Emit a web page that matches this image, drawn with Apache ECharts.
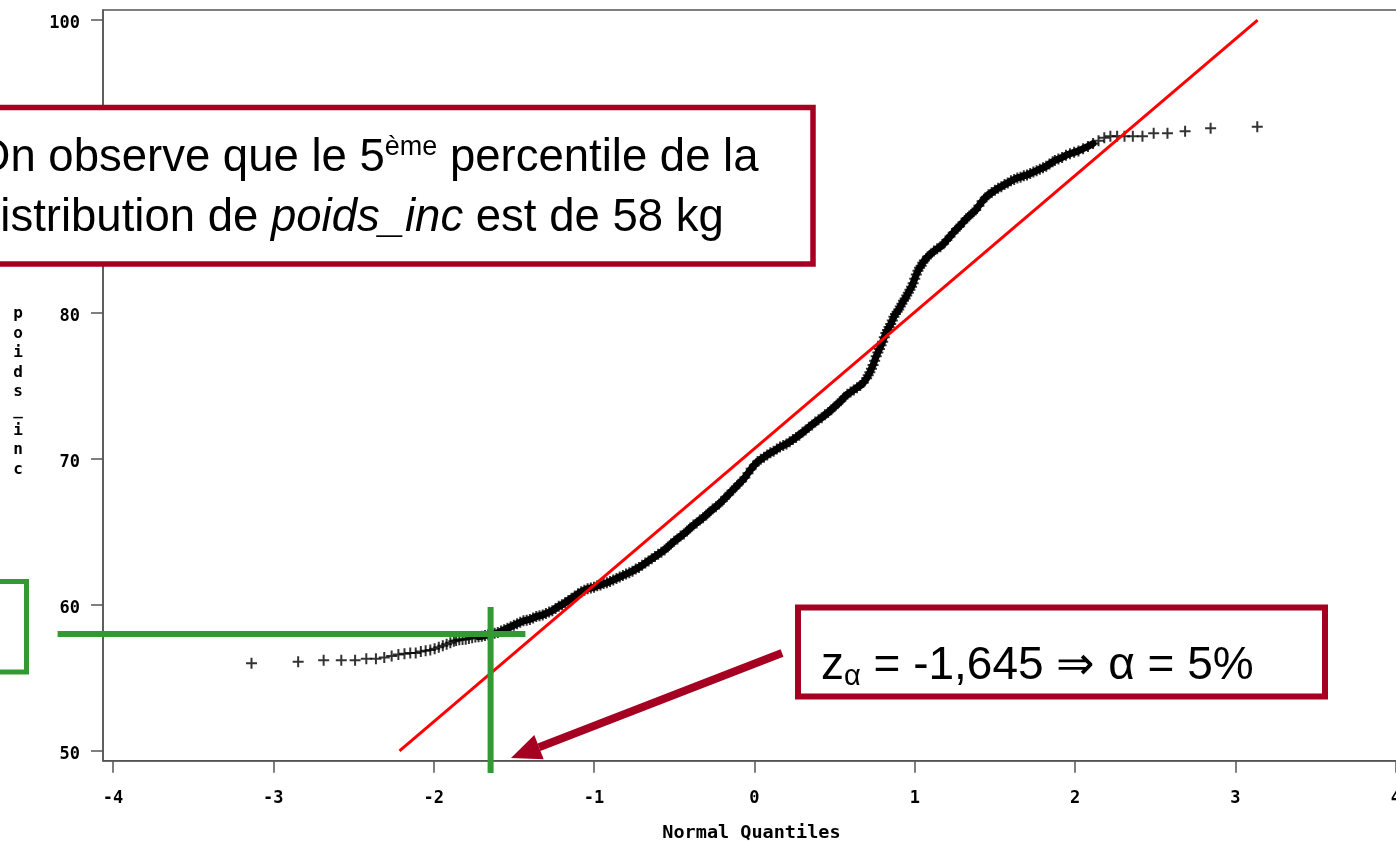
<!DOCTYPE html>
<html><head><meta charset="utf-8">
<script src="https://cdn.jsdelivr.net/npm/echarts@6/dist/echarts.min.js"></script>
<style>html,body{margin:0;padding:0;background:#fff}#c{width:1396px;height:841px}</style>
</head><body><div id="c"></div>
<script>
const normalQuantiles = [
-3.136,-2.845,-2.686,-2.576,-2.490,-2.420,-2.360,-2.308,-2.262,-2.220,-2.182,-2.146,-2.112,-2.080,-2.050,-2.021,-1.994,-1.968,-1.943,-1.919,-1.896,-1.874,
-1.86,-1.84,-1.82,-1.80,-1.78,-1.76,-1.74,-1.72,-1.70,-1.68,-1.66,-1.64,-1.62,-1.60,-1.58,-1.56,-1.54,-1.52,-1.50,-1.48,-1.46,-1.44,-1.42,-1.40,-1.38,-1.36,-1.34,-1.32,-1.30,-1.28,-1.26,-1.24,-1.22,-1.20,-1.18,-1.16,-1.14,-1.12,-1.10,-1.08,-1.06,-1.04,-1.02,-1.00,
-0.98,-0.96,-0.94,-0.92,-0.90,-0.88,-0.86,-0.84,-0.82,-0.80,-0.78,-0.76,-0.74,-0.72,-0.70,-0.68,-0.66,-0.64,-0.62,-0.60,-0.58,-0.56,-0.54,-0.52,-0.50,-0.48,-0.46,-0.44,-0.42,-0.40,-0.38,-0.36,-0.34,-0.32,-0.30,-0.28,-0.26,-0.24,-0.22,-0.20,-0.18,-0.16,-0.14,-0.12,-0.10,-0.08,-0.06,-0.04,-0.02,
0.00,0.02,0.04,0.06,0.08,0.10,0.12,0.14,0.16,0.18,0.20,0.22,0.24,0.26,0.28,0.30,0.32,0.34,0.36,0.38,0.40,0.42,0.44,0.46,0.48,0.50,0.52,0.54,0.56,0.58,0.60,0.62,0.64,0.66,0.68,0.70,
0.71,0.72,0.73,0.74,0.75,0.76,0.77,0.78,0.79,0.80,0.81,0.82,0.83,0.84,0.85,0.86,0.87,0.88,0.89,0.90,0.91,0.92,0.93,0.94,0.95,0.96,0.97,0.98,0.99,1.00,1.01,1.02,1.03,1.04,1.05,1.06,
1.08,1.10,1.12,1.14,1.16,1.18,1.20,1.22,1.24,1.26,1.28,1.30,1.32,1.34,1.36,1.38,1.40,1.42,1.44,1.46,1.48,1.50,1.52,1.54,1.56,1.58,1.60,1.62,1.64,1.66,1.68,1.70,1.72,1.74,1.76,1.78,1.80,1.82,1.84,1.86,
1.874,1.896,1.919,1.943,1.968,1.994,2.021,2.050,2.080,2.112,2.146,2.182,2.220,2.262,2.308,2.360,2.420,2.490,2.576,2.686,2.845,3.136
];
const poidsInc = [
56.0,56.1,56.2,56.2,56.2,56.3,56.3,56.4,56.5,56.6,56.65,56.7,56.7,56.8,56.85,56.9,57.0,57.1,57.2,57.3,57.4,57.5,
57.55,57.6,57.62,57.65,57.7,57.75,57.8,57.82,57.85,57.9,57.95,58.0,58.05,58.1,58.2,58.3,58.4,58.5,58.6,58.7,58.8,58.9,58.95,59.0,59.1,59.2,59.25,59.3,59.4,59.5,59.6,59.75,59.9,60.0,60.15,60.3,60.45,60.6,60.75,60.9,61.0,61.1,61.15,61.2,
61.3,61.35,61.45,61.5,61.6,61.7,61.8,61.9,62.0,62.1,62.2,62.3,62.45,62.55,62.7,62.85,63.0,63.15,63.3,63.45,63.6,63.75,63.95,64.15,64.35,64.5,64.7,64.85,65.05,65.25,65.45,65.6,65.8,65.95,66.15,66.35,66.55,66.7,66.9,67.1,67.35,67.55,67.8,68.0,68.25,68.45,68.7,69.0,69.3,
69.55,69.8,69.95,70.1,70.25,70.4,70.5,70.65,70.8,70.9,71.0,71.15,71.3,71.45,71.6,71.8,71.95,72.15,72.3,72.5,72.65,72.8,73.0,73.15,73.35,73.55,73.75,73.95,74.2,74.4,74.55,74.7,74.85,75.0,75.2,75.5,
75.7,75.9,76.15,76.4,76.7,77.0,77.25,77.5,77.75,78.0,78.3,78.6,78.8,79.0,79.2,79.45,79.7,79.9,80.05,80.2,80.4,80.6,80.8,80.95,81.15,81.35,81.55,81.75,82.0,82.3,82.6,82.85,83.05,83.2,83.4,83.55,
83.8,84.0,84.2,84.35,84.5,84.7,84.95,85.2,85.45,85.7,85.9,86.15,86.4,86.6,86.8,87.0,87.3,87.6,87.85,88.05,88.2,88.35,88.5,88.6,88.75,88.85,89.0,89.1,89.2,89.25,89.35,89.4,89.5,89.6,89.7,89.8,89.9,90.0,90.15,90.3,
90.4,90.5,90.6,90.75,90.85,90.95,91.05,91.2,91.35,91.55,91.75,91.95,92.05,92.05,92.05,92.05,92.05,92.25,92.25,92.4,92.6,92.7
];
// Reference (normal) line end points
const refLineX = [-2.213, 3.138];
const refLineY = [50, 100];
// Green guide lines: z = -1.645, 5th percentile = 58
const zAlpha = -1.645;
const percentile5 = 58;
const guideHX = [-4.345, -1.428];
const guideVY = [59.85, 48.5];
// Dense part of the sample (where the markers merge into a band)
const denseRange = [-1.72, 2.12];
// Axis ticks
const xTickValues = [-4, -3, -2, -1, 0, 1, 2, 3, 4];
const yTickValues = [50, 60, 70, 80, 90, 100];
const xRange = [-4.062, 4.2];
const yRange = [49.337, 100.684];
const yName = 'poids_inc';

const tickFont = {fontFamily: 'DejaVu Sans Mono', fontWeight: 'bold', fontSize: 17, color: '#000'};
const axisGray = '#555';
const darkRed = '#A50021';
const green = '#339933';
const annFont = 'Liberation Sans';
const annSize = 45.5;

// measure text widths to place the superscript
const mctx = document.createElement('canvas').getContext('2d');
function tw(t, size, style) { mctx.font = (style || '') + ' ' + size + 'px "' + annFont + '"'; return mctx.measureText(t).width; }
const line1a = 'On observe que le 5', line1b = 'ème', line1c = ' percentile de la';
const l1x = -25;
const l1bX = l1x + tw(line1a, annSize);
const l1cX = l1bX + tw(line1b, 27);

const chart = echarts.init(document.getElementById('c'), null, {renderer: 'canvas'});
const pts = normalQuantiles.map((x, i) => [x, poidsInc[i]]);
const densePts = pts.filter(p => p[0] >= denseRange[0] && p[0] <= denseRange[1]);
const guides = [
  [guideHX[0], percentile5, guideHX[1], percentile5],
  [zAlpha, guideVY[0], zAlpha, guideVY[1]]
];
const yNameRich = '{e| }\n' + yName.split('').map(c => '{n|' + c + '}').join('\n');
const nameFont = {fontFamily: 'DejaVu Sans Mono', fontWeight: 'bold', fontSize: 16, lineHeight: 19.4, color: '#000'};

chart.setOption({
  animation: false,
  backgroundColor: '#fff',
  grid: {left: 103, top: 10.06, width: 1324.9, height: 750.6, show: true, outerBoundsMode: 'none',
         containLabel: false,
         borderColor: axisGray, borderWidth: 1.5, backgroundColor: 'transparent'},
  xAxis: {
    type: 'value', min: xRange[0], max: xRange[1],
    axisLine: {show: true, onZero: false, lineStyle: {color: axisGray, width: 1.5}},
    axisTick: {show: true, inside: false, length: 12, customValues: xTickValues, lineStyle: {color: axisGray, width: 1.5}},
    axisLabel: Object.assign({customValues: xTickValues, margin: 29}, tickFont),
    splitLine: {show: false},
    name: '{n|Normal Quantiles}', nameLocation: 'middle', nameGap: 63,
    nameTextStyle: {fontFamily: 'DejaVu Sans Mono', fontWeight: 'bold', fontSize: 18.5, color: '#000',
                    rich: {n: {fontFamily: 'DejaVu Sans Mono', fontWeight: 'bold', fontSize: 18.5, color: '#000', padding: [0, 28, 0, 0]}}}
  },
  yAxis: {
    type: 'value', min: yRange[0], max: yRange[1],
    axisLine: {show: true, onZero: false, lineStyle: {color: axisGray, width: 1.5}},
    axisTick: {show: true, inside: false, length: 12, customValues: yTickValues, lineStyle: {color: axisGray, width: 1.5}},
    axisLabel: Object.assign({customValues: yTickValues, margin: 23, verticalAlign: 'top', lineHeight: 8}, tickFont),
    splitLine: {show: false},
    name: yNameRich, nameLocation: 'middle', nameRotate: 0, nameGap: 85,
    nameTextStyle: Object.assign({align: 'center', verticalAlign: 'middle',
      rich: {e: Object.assign({}, nameFont, {fontSize: 8, lineHeight: 13}), n: Object.assign({}, nameFont)}}, nameFont)
  },
  series: [
    {type: 'line', data: densePts, z: 1, symbol: 'none', silent: true,
     lineStyle: {color: '#000', width: 7, join: 'round', cap: 'round'}},
    {type: 'scatter', data: pts, z: 2,
     symbol: 'path://M0,5L10,5M5,0L5,10', symbolSize: 11,
     itemStyle: {color: 'rgba(0,0,0,0)', borderColor: '#000', borderWidth: 2},
     emphasis: {disabled: true}},
    {type: 'line', z: 3, data: refLineX.map((x, i) => [x, refLineY[i]]), symbol: 'none',
     lineStyle: {color: '#ff0000', width: 3}, silent: true},
    {type: 'custom', z: 4, clip: false, silent: true, data: guides,
     dimensions: ['x1', 'y1', 'x2', 'y2'], encode: {x: [0, 2], y: [1, 3]},
     renderItem: function (params, api) {
       const p1 = api.coord([api.value(0), api.value(1)]);
       const p2 = api.coord([api.value(2), api.value(3)]);
       return {type: 'line', shape: {x1: p1[0], y1: p1[1], x2: p2[0], y2: p2[1]},
               style: {stroke: green, lineWidth: 6}};
     }}
  ],
  graphic: {elements: [
    {type: 'rect', z: 100, shape: {x: -20, y: 581.5, width: 46.5, height: 90.5},
     style: {fill: '#fff', stroke: green, lineWidth: 5}},
    {type: 'rect', z: 100, shape: {x: -20, y: 107.5, width: 833, height: 156.5},
     style: {fill: '#fff', stroke: darkRed, lineWidth: 5.5}},
    {type: 'text', z: 101, x: l1x, y: 158,
     style: {text: line1a, fontFamily: annFont, fontSize: annSize, fill: '#000', align: 'left', verticalAlign: 'middle'}},
    {type: 'text', z: 101, x: l1bX, y: 148,
     style: {text: line1b, fontFamily: annFont, fontSize: 27, fill: '#000', align: 'left', verticalAlign: 'middle'}},
    {type: 'text', z: 101, x: l1cX, y: 158,
     style: {text: line1c, fontFamily: annFont, fontSize: annSize, fill: '#000', align: 'left', verticalAlign: 'middle'}},
    {type: 'text', z: 101, x: l1x, y: 218,
     style: {text: '{m|distribution de }{it|poids_inc}{m| est de 58 kg}',
             fontFamily: annFont, fontSize: annSize, fill: '#000', align: 'left', verticalAlign: 'middle',
             rich: {
               m: {fontFamily: annFont, fontSize: annSize, lineHeight: 60, fill: '#000'},
               it: {fontFamily: annFont, fontSize: annSize, fontStyle: 'italic', lineHeight: 60, fill: '#000'}
             }}},
    {type: 'rect', z: 100, shape: {x: 798, y: 607.5, width: 527, height: 89},
     style: {fill: '#fff', stroke: darkRed, lineWidth: 6}},
    {type: 'text', z: 101, x: 821, y: 666,
     style: {text: '{m|z}{s|α}{m| = -1,645 ⇒ α = 5%}',
             fontFamily: annFont, fontSize: 46, fill: '#000', align: 'left', verticalAlign: 'middle',
             rich: {
               m: {fontFamily: annFont, fontSize: 46, lineHeight: 50, fill: '#000'},
               s: {fontFamily: annFont, fontSize: 29, lineHeight: 30, verticalAlign: 'bottom', fill: '#000'}
             }}},
    {type: 'line', z: 100, shape: {x1: 782, y1: 653, x2: 539, y2: 747.2},
     style: {stroke: darkRed, lineWidth: 8}},
    {type: 'polygon', z: 100, shape: {points: [[511, 758], [543.7, 759.3], [534.3, 735]]},
     style: {fill: darkRed}}
  ]}
});
</script>
</body></html>
